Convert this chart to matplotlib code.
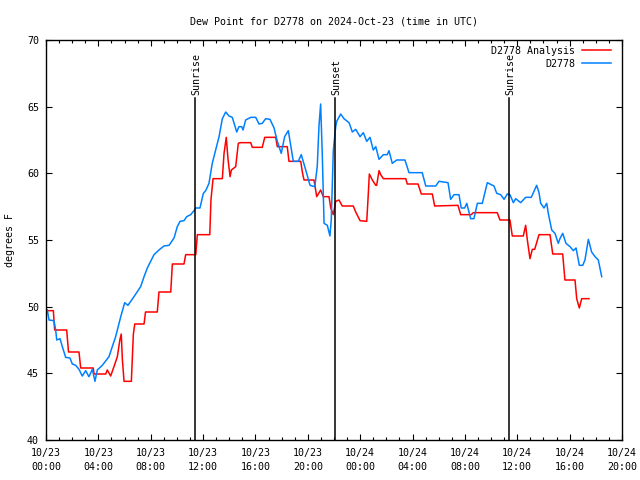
import matplotlib
matplotlib.use('Agg')
import matplotlib.pyplot as plt
from matplotlib.ticker import MultipleLocator

#   DATOS (horas desde 10/23 00:00 UTC, punto de rocio en F)
obs_h = [0.10, 0.23, 0.61, 0.74, 0.82, 1.07, 1.25, 1.50, 1.83, 2.01, 2.27, 2.52,
         2.77, 3.03, 3.28, 3.54, 3.74, 3.92, 4.30, 4.81, 5.32, 5.71, 6.01, 6.26,
         6.72, 7.23, 7.49, 7.74, 8.25, 8.63, 9.01, 9.40, 9.78, 10.03, 10.24, 10.54,
         10.75, 11.05, 11.31, 11.44, 11.76, 12.02, 12.20, 12.45, 12.70, 12.96, 13.22,
         13.47, 13.73, 13.98, 14.23, 14.57, 14.74, 14.95, 15.05, 15.25, 15.64, 16.02,
         16.27, 16.52, 16.78, 17.11, 17.42, 17.67, 17.97, 18.23, 18.51, 18.69, 18.89,
         19.27, 19.50, 19.84, 20.17, 20.53, 20.72, 20.85, 20.98, 21.11, 21.24, 21.49,
         21.69, 21.79, 21.95, 22.13, 22.21, 22.51, 22.76, 23.15, 23.40, 23.66, 23.99,
         24.24, 24.50, 24.75, 25.00, 25.19, 25.44, 25.77, 26.07, 26.20, 26.45, 26.79,
         27.42, 27.73, 28.74, 29.01, 29.77, 30.02, 30.71, 30.91, 31.17, 31.55, 31.72,
         31.98, 32.14, 32.44, 32.69, 32.95, 33.33, 33.71, 34.22, 34.43, 34.73, 34.99,
         35.24, 35.44, 35.70, 35.88, 36.26, 36.64, 37.07, 37.48, 37.66, 37.79, 38.04,
         38.25, 38.37, 38.63, 38.88, 39.13, 39.26, 39.47, 39.72, 40.03, 40.28, 40.49,
         40.74, 41.00, 41.17, 41.43, 41.68, 41.94, 42.19, 42.45]
obs_dp = [49.75, 49.0, 48.95, 48.25, 47.5, 47.6, 47.0, 46.2, 46.15, 45.7, 45.6, 45.3,
          44.8, 45.2, 44.75, 45.3, 44.4, 45.25, 45.6, 46.25, 47.75, 49.25, 50.3, 50.1,
          50.75, 51.5, 52.25, 52.9, 53.9, 54.25, 54.55, 54.6, 55.15, 56.0, 56.4, 56.45,
          56.75, 56.9, 57.2, 57.4, 57.4, 58.5, 58.7, 59.25, 60.75, 61.75, 62.75,
          64.1, 64.6, 64.3, 64.2, 63.1, 63.5, 63.5, 63.25, 64.0, 64.2, 64.2,
          63.7, 63.75, 64.1, 64.05, 63.4, 62.4, 61.5, 62.75, 63.2, 62.1, 60.9,
          60.9, 61.4, 60.25, 59.1, 59.0, 60.5, 63.5, 65.2, 61.25, 56.25, 56.1,
          55.3, 56.5, 61.75, 63.5, 63.9, 64.45, 64.1, 63.8, 63.1, 63.3, 62.75,
          63.05, 62.4, 62.7, 61.75, 62.0, 61.05, 61.4, 61.4, 61.7, 60.75, 61.0,
          61.0, 60.05, 60.05, 59.05, 59.05, 59.4, 59.3, 58.05, 58.4, 58.4, 57.4,
          57.4, 57.75, 56.6, 56.6, 57.75, 57.75, 59.3, 59.05, 58.5, 58.4, 58.05,
          58.45, 58.4, 57.8, 58.1, 57.8, 58.2, 58.2, 59.1, 58.55, 57.75, 57.4,
          57.75, 57.0, 55.75, 55.5, 54.75, 55.1, 55.5, 54.75, 54.5, 54.2, 54.4,
          53.1, 53.1, 53.5, 55.05, 54.1, 53.75, 53.5, 52.25]

anl_h = [0.04, 0.56, 0.66, 1.58, 1.72, 2.52, 2.65, 3.61, 3.67, 4.56, 4.68, 4.94,
         5.19, 5.45, 5.65, 5.75, 5.83, 5.96, 6.52, 6.67, 6.78, 7.49, 7.60, 8.50,
         8.63, 9.53, 9.65, 10.54, 10.67, 11.44, 11.56, 12.51, 12.60, 12.76, 13.47,
         13.60, 13.77, 13.90, 14.06, 14.16, 14.49, 14.69, 14.82, 15.64, 15.76, 16.52,
         16.71, 17.55, 17.67, 18.43, 18.56, 19.46, 19.58, 19.71, 20.47, 20.68, 20.98,
         21.18, 21.62, 21.75, 21.95, 22.13, 22.38, 22.63, 23.47, 23.66, 23.99, 24.50,
         24.60, 24.70, 24.93, 25.19, 25.26, 25.44, 25.57, 25.77, 27.48, 27.60, 28.42,
         28.67, 29.51, 29.69, 31.47, 31.68, 32.49, 32.64, 34.47, 34.68, 35.44, 35.62,
         36.46, 36.64, 36.77, 36.97, 37.15, 37.33, 37.66, 38.50, 38.71, 39.47, 39.64,
         40.41, 40.54, 40.74, 40.92, 41.48]
anl_dp = [49.7, 49.7, 48.25, 48.25, 46.6, 46.6, 45.4, 45.4, 44.95, 44.95, 45.25, 44.8,
          45.5, 46.25, 47.55, 47.95, 46.1, 44.4, 44.4, 47.9, 48.7, 48.7, 49.6, 49.6,
          51.1, 51.1, 53.2, 53.2, 53.9, 53.9, 55.4, 55.4, 58.0, 59.6, 59.6,
          61.5, 62.7, 61.1, 59.75, 60.25, 60.5, 62.25, 62.3, 62.3, 61.95, 61.95,
          62.7, 62.7, 62.0, 62.0, 60.9, 60.9, 60.1, 59.5, 59.5, 58.25, 58.75,
          58.25, 58.25, 57.4, 56.9, 57.9, 58.0, 57.55, 57.55, 57.1, 56.45, 56.4,
          58.1, 59.95, 59.5, 59.1, 59.1, 60.2, 59.9, 59.6, 59.6, 59.2, 59.2,
          58.45, 58.45, 57.55, 57.6, 56.9, 56.9, 57.05, 57.05, 56.5, 56.5, 55.3,
          55.3, 56.1, 55.0, 53.6, 54.3, 54.3, 55.4, 55.4, 53.95, 53.95, 52.0,
          52.0, 50.6, 49.9, 50.6, 50.6]

sun_h = [11.38, 22.08, 35.37]
sun_lbl = ['Sunrise', 'Sunset', 'Sunrise']

xticks = [0, 4, 8, 12, 16, 20, 24, 28, 32, 36, 40, 44]
xtick_lbl = ['10/23\n00:00', '10/23\n04:00', '10/23\n08:00', '10/23\n12:00',
             '10/23\n16:00', '10/23\n20:00', '10/24\n00:00', '10/24\n04:00',
             '10/24\n08:00', '10/24\n12:00', '10/24\n16:00', '10/24\n20:00']

fs = 7.2
plt.rcParams['font.family'] = ['DejaVu Sans Mono']
plt.rcParams['font.size'] = fs

fig = plt.figure(figsize=(6.4, 4.8), dpi=100)
ax = fig.add_axes([46/640, 40/480, 576/640, 400/480])

ax.plot(anl_h, anl_dp, color='#ff0000', lw=1.1, label='D2778 Analysis')
ax.plot(obs_h, obs_dp, color='#0080ff', lw=1.1, label='D2778')

#   LINEAS DE SALIDA / PUESTA DEL SOL
for h, lbl in zip(sun_h, sun_lbl):
    ax.plot([h, h], [40, 65.65], color='black', lw=1.1)
    ax.text(h + 0.12, 65.9, lbl, rotation=90, ha='center', va='bottom', fontsize=fs)

ax.set_xlim(0, 44)
ax.set_ylim(40, 70)
ax.set_xticks(xticks)
ax.set_xticklabels(xtick_lbl, linespacing=1.5)
ax.xaxis.set_minor_locator(MultipleLocator(1))
ax.set_yticks([40, 45, 50, 55, 60, 65, 70])
ax.tick_params(which='both', direction='in', top=True, right=True, width=0.8)
ax.tick_params(which='major', length=4.5)
ax.tick_params(axis='x', which='major', pad=6)
ax.tick_params(axis='y', which='major', pad=5)
ax.tick_params(which='minor', length=2.2)
for s in ax.spines.values():
    s.set_linewidth(1.0)

ax.set_title('Dew Point for D2778 on 2024-Oct-23 (time in UTC)', fontsize=fs, pad=11)
ax.set_ylabel('degrees F', fontsize=fs, labelpad=9)

ax.legend(loc='upper right', bbox_to_anchor=(0.992, 1.0), frameon=False,
          markerfirst=False, handlelength=2.9, handletextpad=0.7,
          labelspacing=0.3, borderaxespad=0.2, fontsize=fs)

plt.savefig('out.png', dpi=100)
